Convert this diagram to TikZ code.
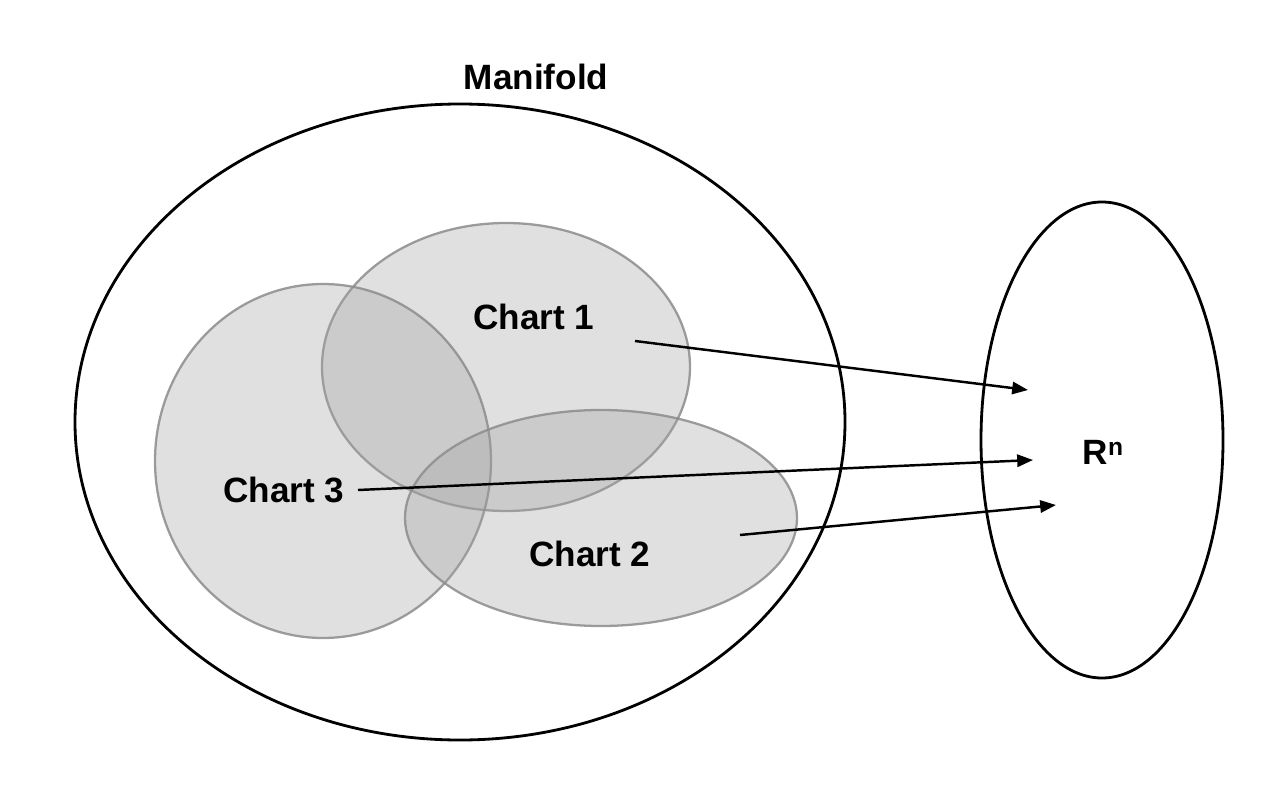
\documentclass[tikz,border=0pt]{standalone}
\usepackage{fontspec}
\setmainfont{Liberation Sans}
\usetikzlibrary{arrows.meta}
\begin{document}
\begin{tikzpicture}[x=0.02cm,y=-0.02cm,
  bigell/.style={draw=black,line width=1.6pt},
  chart/.style={draw=black!45,draw opacity=0.85,fill=black!37,fill opacity=0.33,line width=1.3pt},
  lbl/.style={font=\fontsize{20}{23}\selectfont\bfseries,inner sep=1pt},
  maparrow/.style={line width=1.4pt,-{Triangle[length=9pt,width=7pt]}}]
\useasboundingbox (0,0) rectangle (1280,804);
\draw[bigell] (460,422) ellipse [x radius=385,y radius=318];
\draw[bigell] (1102,440) ellipse [x radius=121,y radius=238];
\draw[chart] (506,367) ellipse [x radius=184,y radius=144];
\draw[chart] (323,461) ellipse [x radius=168,y radius=177];
\draw[chart] (601,518) ellipse [x radius=196,y radius=108];
\node[lbl] (manifold) at (536,77) {Manifold};
\node[lbl] (c1) at (534,317) {Chart 1};
\node[lbl] (c3) at (284,490) {Chart 3};
\node[lbl] (c2) at (590,554) {Chart 2};
\node[lbl] (rn) at (1103,452) {R\raisebox{0.24em}{\fontsize{14}{16}\selectfont n}};
\coordinate (s1) at (635,341);
\coordinate (e1) at (1028,390);
\coordinate (s3) at (358,490);
\coordinate (e3) at (1033,460);
\coordinate (s2) at (740,535);
\coordinate (e2) at (1056,505);
\draw[maparrow] (s1) -- (e1);
\draw[maparrow] (s3) -- (e3);
\draw[maparrow] (s2) -- (e2);
\end{tikzpicture}
\end{document}
